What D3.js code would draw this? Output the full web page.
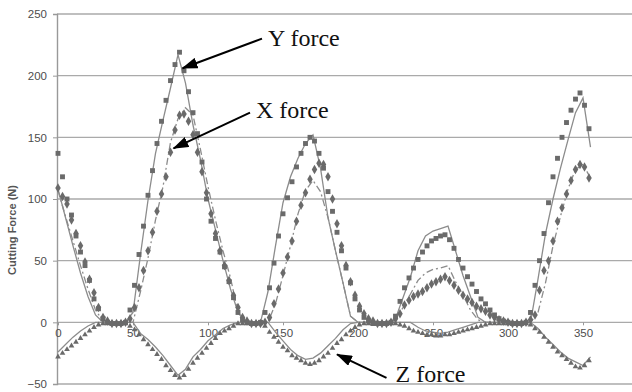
<!DOCTYPE html>
<html>
<head>
<meta charset="utf-8">
<script src="https://cdn.jsdelivr.net/npm/d3@7"></script>
<style>
  body { margin: 0; background: #fff; }
  svg { display: block; }
  .tick-label { font-family: "Liberation Sans", Arial, sans-serif; font-size: 11.5px; fill: #4d4d4d; }
  .axis-title { font-family: "Liberation Sans", Arial, sans-serif; font-size: 11px; font-weight: bold; fill: #555; }
  .note { font-family: "Liberation Serif", "Times New Roman", serif; font-size: 24px; fill: #111; }
</style>
</head>
<body>
<svg width="632" height="392"></svg>
<script>
// measured points, every 3 degrees
var measAngles = d3.range(0, 355, 3);
var yMeasured = [137, 118, 100, 87, 70, 57, 46, 34, 19, 11, 3, 0, -1, -1, -1, 0, 10, 30, 55, 78,
  103, 123, 145, 163, 180, 196, 209, 219, 204, 187, 170, 153, 130, 100, 82, 68, 57, 45, 33, 20,
  8, 2, 0, -1, -1, 0, 8, 28, 48, 70, 88, 101, 114, 126, 137, 145, 150, 147, 137, 125,
  106, 90, 73, 58, 44, 32, 19, 10, 4, 1, -1, -1, -1, -1, 0, 5, 17, 28, 36, 44,
  51, 57, 62, 66, 68, 70, 71, 67, 60, 51, 44, 37, 31, 25, 19, 15, 10, 6, 3, 1,
  0, -1, -1, -1, 0, 8, 30, 50, 72, 97, 118, 133, 150, 162, 172, 181, 186, 176, 157];
var xMeasured = [109, 102, 96, 83, 72, 62, 49, 35, 24, 12, 4, 1, -1, -1, -1, 0, 3, 12, 28, 42,
  58, 73, 90, 104, 118, 138, 156, 168, 169, 163, 152, 138, 122, 105, 88, 72, 58, 46, 34, 22,
  12, 4, 1, -1, -1, -1, 0, 4, 15, 27, 40, 53, 66, 82, 95, 105, 116, 124, 129, 128,
  118, 100, 80, 62, 46, 33, 22, 13, 7, 3, 1, -1, -1, -1, 0, 3, 7, 14, 18, 21,
  23, 25, 28, 31, 33, 35, 37, 34, 30, 26, 22, 19, 16, 13, 11, 9, 6, 4, 2, 1,
  0, -1, -1, -1, 0, 2, 6, 26, 42, 50, 66, 82, 93, 104, 115, 124, 128, 126, 117];
var zMeasured = [-28, -25, -22, -19, -16, -13, -10, -7, -4, -2, -1, -1, -1, -1, -1, -1, -3, -6, -10, -14,
  -18, -22, -26, -30, -35, -39, -43, -45, -43, -38, -33, -29, -25, -21, -17, -13, -9, -7, -5, -3,
  -1, -1, -1, -1, -1, -1, -3, -8, -12, -16, -20, -23, -27, -29, -31, -33, -34, -33, -31, -28,
  -25, -21, -17, -14, -10, -7, -4, -2, -1, -1, -1, -1, -1, -1, -1, -1, -2, -3, -5, -7,
  -8, -9, -10, -10, -11, -11, -10, -10, -9, -8, -7, -6, -5, -4, -3, -2, -1, -1, -1, -1,
  -1, -1, -1, -1, -1, -2, -5, -8, -12, -16, -20, -24, -27, -30, -33, -36, -37, -35, -31];

// simulated curves, every 5 degrees
var simAngles = d3.range(0, 356, 5);
var ySimulated = [108, 85, 62, 40, 21, 6, 0, 0, 0, 0, 8, 55, 99, 137, 164, 190, 217, 194, 160, 132,
  100, 75, 50, 27, 8, 0, 0, 0, 25, 62, 97, 118, 133, 145, 152, 125, 85, 58, 32, 5,
  0, 0, 0, 0, 0, 3, 20, 37, 58, 70, 74, 76, 78, 58, 38, 21, 4, 0, 0, 0,
  0, 0, 0, 0, 35, 72, 100, 125, 148, 170, 182, 142];
var xSimulated = [107, 86, 66, 46, 27, 10, 1, 0, 0, 0, 0, 25, 52, 83, 110, 146, 165, 174, 168, 140,
  110, 83, 58, 36, 8, 0, 0, 0, 0, 15, 38, 62, 88, 107, 115, 106, 85, 58, 32, 5,
  0, 0, 0, 0, 0, 2, 12, 23, 34, 40, 43, 44, 46, 33, 22, 10, 2, 0, 0, 0,
  0, 0, 0, 0, 8, 32, 62, 86, 108, 124, 128, 117];
var zSimulated = [-24, -18, -12, -7, -3, 0, 0, 0, 0, 0, 0, -9, -14, -20, -27, -35, -43, -38, -28, -22,
  -15, -10, -5, -2, 0, 0, 0, 0, 0, -8, -15, -22, -27, -30, -29, -25, -19, -13, -6, -1,
  0, 0, 0, 0, 0, 0, 0, 0, -4, -7, -8, -9, -8, -6, -4, -2, 0, 0, 0, 0,
  0, 0, 0, 0, -5, -12, -18, -24, -29, -32, -35, -28];

var xTicks = [0, 50, 100, 150, 200, 250, 300, 350];
var yTicks = [-50, 0, 50, 100, 150, 200, 250];

var notes = [
  { text: "Y force", tx: 140, ty: 224, from: [136, 230], to: [83, 206] },
  { text: "X force", tx: 132, ty: 166, from: [128, 170], to: [77, 141] },
  { text: "Z force", tx: 225, ty: -48, from: [219, -45], to: [186, -26] }
];

var svg = d3.select("svg");

var x = d3.scaleLinear().domain([0, 400]).range([58, 658]);
var y = d3.scaleLinear().domain([-50, 250]).range([384, 14]);

// gridlines
svg.append("g").selectAll("line")
  .data(yTicks)
  .enter().append("line")
  .attr("x1", 57).attr("x2", 632)
  .attr("y1", function(d) { return y(d); })
  .attr("y2", function(d) { return y(d); })
  .attr("stroke", "#aaa")
  .attr("stroke-width", 1.4);

// y axis
var yAxis = svg.append("g")
  .attr("transform", "translate(57,0)")
  .call(d3.axisLeft(y).tickValues(yTicks).tickSize(4).tickPadding(6));
yAxis.select(".domain").attr("stroke", "#999").attr("stroke-width", 1.4);
yAxis.selectAll(".tick line").attr("stroke", "#999");
yAxis.selectAll("text").attr("class", "tick-label").attr("font-family", null).attr("font-size", null).attr("fill", null);

// x axis sits on zero
var xAxis = svg.append("g")
  .attr("transform", "translate(0," + y(0) + ")")
  .call(d3.axisBottom(x).tickValues(xTicks).tickSize(3).tickPadding(4));
xAxis.select(".domain").remove();
xAxis.selectAll(".tick line").attr("stroke", "#999");
xAxis.selectAll("text").attr("class", "tick-label").attr("font-family", null).attr("font-size", null).attr("fill", null);

svg.append("text")
  .attr("class", "axis-title")
  .attr("transform", "translate(16,230) rotate(-90)")
  .attr("text-anchor", "middle")
  .text("Cutting Force (N)");

function simLine(values) {
  return d3.line()
    .x(function(d, i) { return x(simAngles[i]); })
    .y(function(d) { return y(d); })(values);
}

svg.append("path").attr("d", simLine(ySimulated))
  .attr("fill", "none").attr("stroke", "#8c8c8c").attr("stroke-width", 1.3);
svg.append("path").attr("d", simLine(xSimulated))
  .attr("fill", "none").attr("stroke", "#8c8c8c").attr("stroke-width", 1.3)
  .attr("stroke-dasharray", "7,3,2,3");
svg.append("path").attr("d", simLine(zSimulated))
  .attr("fill", "none").attr("stroke", "#8c8c8c").attr("stroke-width", 1.3);

function markers(values, symbolType, size) {
  svg.append("g").selectAll("path")
    .data(values)
    .enter().append("path")
    .attr("d", d3.symbol().type(symbolType).size(size))
    .attr("transform", function(d, i) { return "translate(" + x(measAngles[i]) + "," + y(d) + ")"; })
    .attr("fill", "#6a6a6a");
}

markers(zMeasured, d3.symbolTriangle, 14);
markers(xMeasured, d3.symbolDiamond, 26);
markers(yMeasured, d3.symbolSquare, 24);

// annotations
svg.append("defs").append("marker")
  .attr("id", "head")
  .attr("viewBox", "0 0 16 11")
  .attr("refX", 15).attr("refY", 5.5)
  .attr("markerWidth", 8).attr("markerHeight", 5.5)
  .attr("markerUnits", "strokeWidth")
  .attr("orient", "auto")
  .append("path").attr("d", "M0,0L16,5.5L0,11z").attr("fill", "#000");

notes.forEach(function(n) {
  svg.append("line")
    .attr("x1", x(n.from[0])).attr("y1", y(n.from[1]))
    .attr("x2", x(n.to[0])).attr("y2", y(n.to[1]))
    .attr("stroke", "#000").attr("stroke-width", 2)
    .attr("marker-end", "url(#head)");
  svg.append("text")
    .attr("class", "note")
    .attr("x", x(n.tx)).attr("y", y(n.ty))
    .text(n.text);
});
</script>
</body>
</html>
